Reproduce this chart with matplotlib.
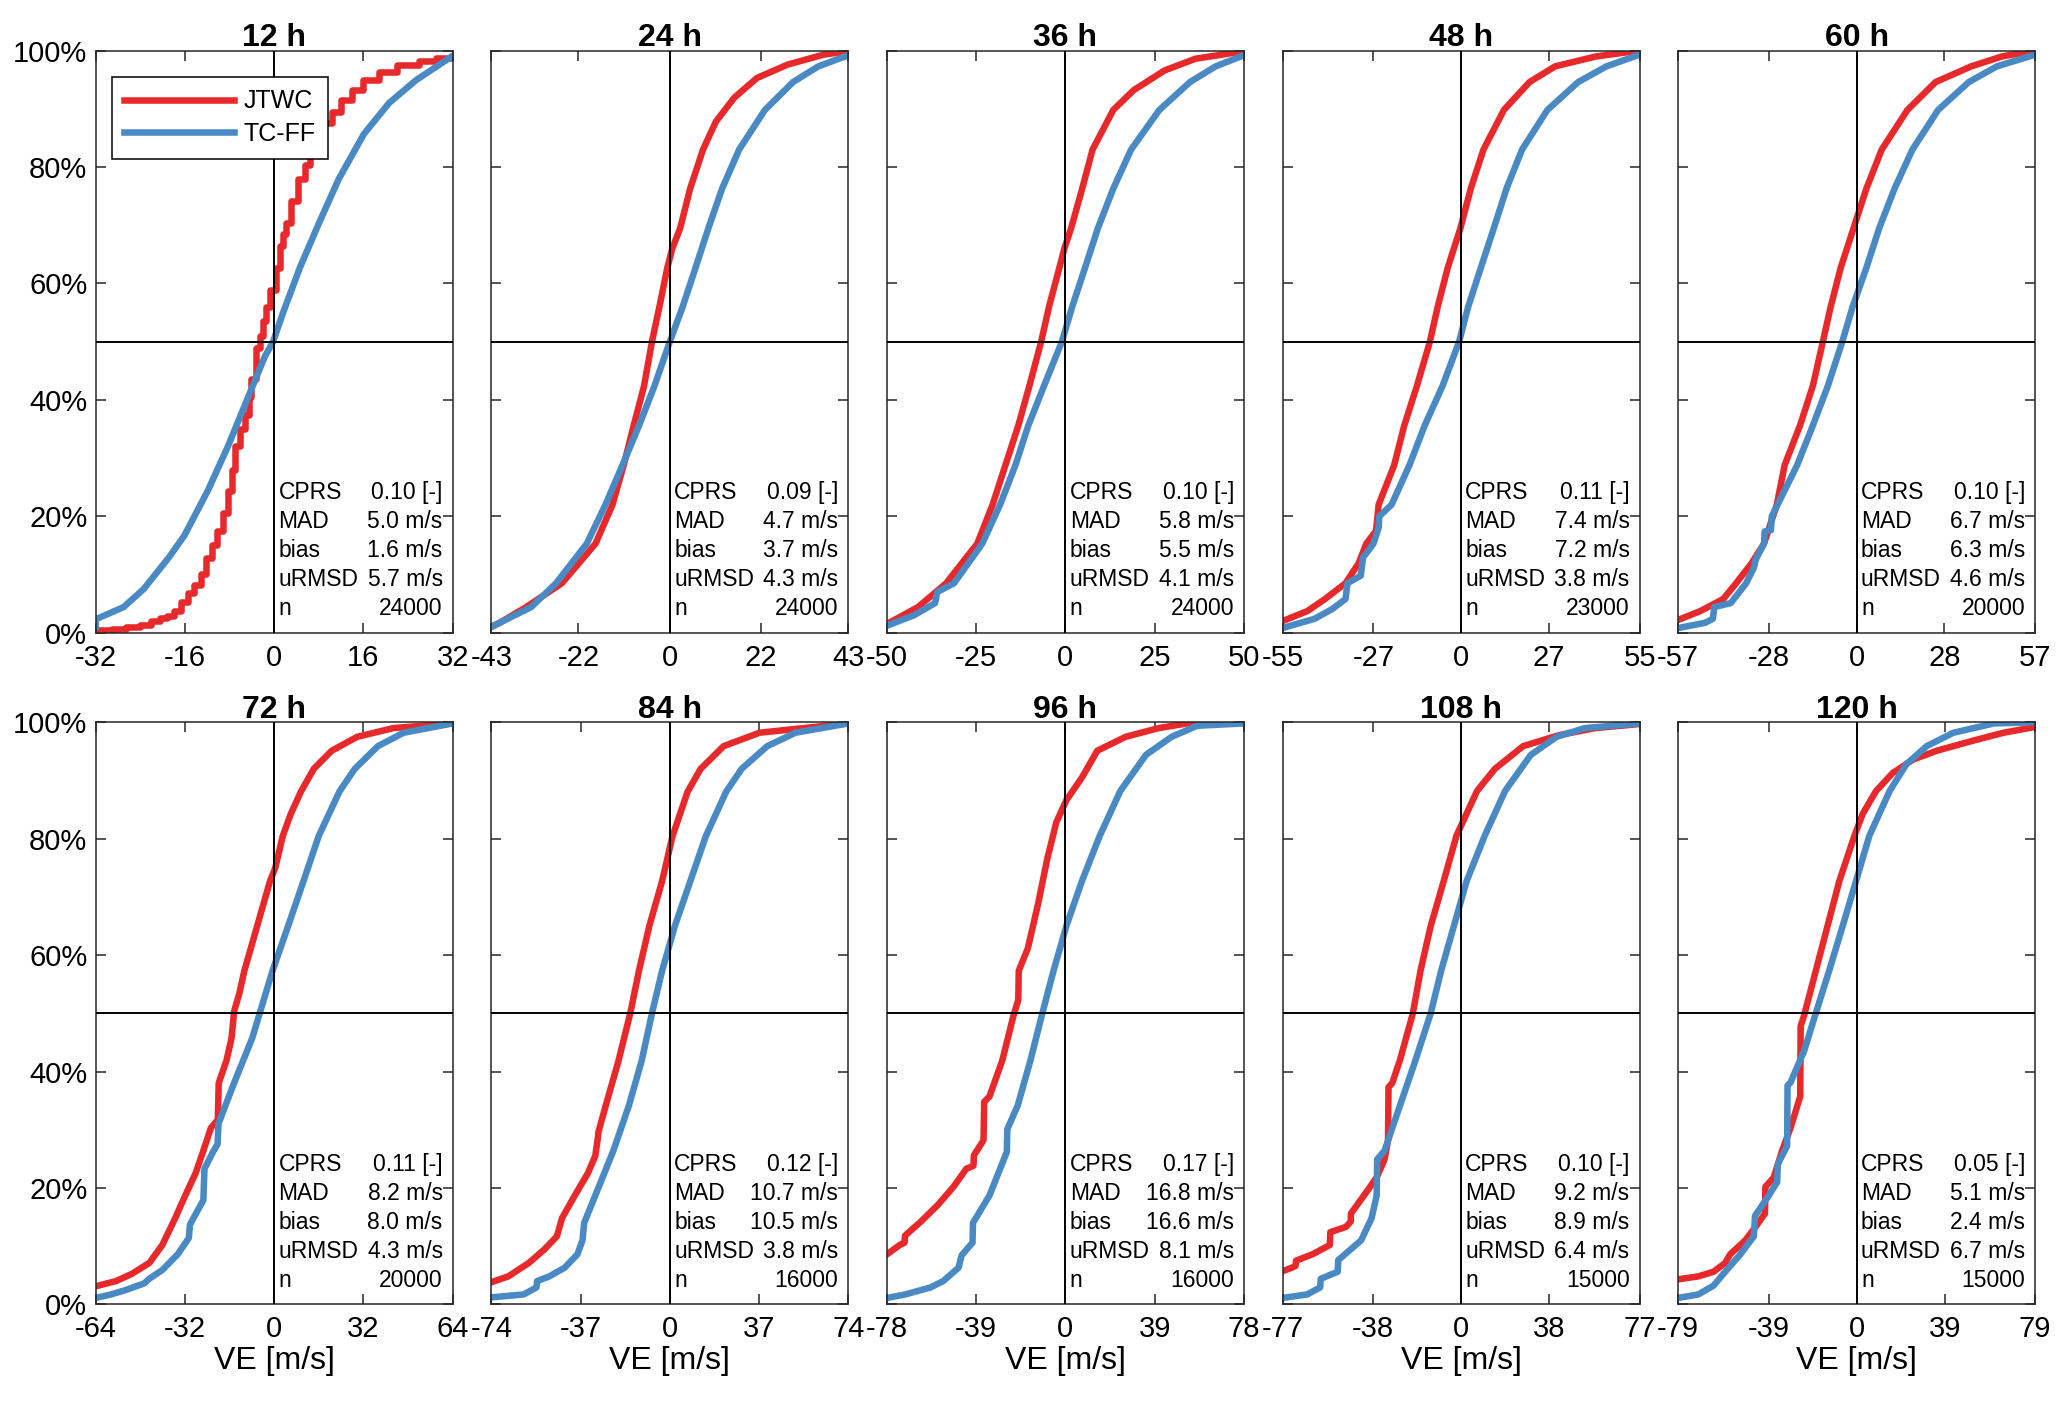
import matplotlib.pyplot as plt

plt.rcParams['font.family'] = ['Liberation Sans', 'DejaVu Sans']

# panel settings and summary statistics
leads = ['12 h', '24 h', '36 h', '48 h', '60 h', '72 h', '84 h', '96 h', '108 h', '120 h']
xmax = [32, 43, 50, 55, 57, 64, 74, 78, 77, 79]
xhalf = [16, 22, 25, 27, 28, 32, 37, 39, 38, 39]
cprs = [0.10, 0.09, 0.10, 0.11, 0.10, 0.11, 0.12, 0.17, 0.10, 0.05]
mad = [5.0, 4.7, 5.8, 7.4, 6.7, 8.2, 10.7, 16.8, 9.2, 5.1]
bias = [1.6, 3.7, 5.5, 7.2, 6.3, 8.0, 10.5, 16.6, 8.9, 2.4]
urmsd = [5.7, 4.3, 4.1, 3.8, 4.6, 4.3, 3.8, 8.1, 6.4, 6.7]
n_cases = [24000, 24000, 24000, 23000, 20000, 20000, 16000, 16000, 15000, 15000]

# CDF curves: VE [m/s] and cumulative percentage
jtwc_x_12 = [-32, -29, -26.5, -24, -22, -20.5, -19.2, -18, -16.7, -15.4, -14.3, -13.2, -12.2, -11.2,
             -10.2, -9.2, -8.3, -7.6, -7.1, -6.2, -5.3, -4.5, -4.1, -3.2, -2.6, -2.0, -1.4, -0.8,
             0.4, 1.0, 1.6, 2.2, 3.1, 4.3, 5.5, 6.4, 7.3, 8.5, 10.4, 12, 14, 16, 18.8, 22, 26,
             29, 32]
jtwc_p_12 = [0.5, 0.7, 1.0, 1.4, 2.0, 2.5, 2.9, 3.7, 5.2, 6.8, 8.2, 10, 12.9, 15,
             17.5, 20.5, 24.4, 28, 32, 35, 37.4, 40.5, 43.5, 48.9, 51, 53.5, 56, 58.8,
             62.7, 66.5, 68.5, 70.3, 74.2, 78, 80.3, 83, 85.7, 87.5, 89.5, 91.5, 93.3, 95, 96.4,
             97.5, 98.3, 98.8, 99.1]
tcff_x_12 = [-32, -32, -27, -23.4, -18.9, -16.1, -11.9, -8.3, -5, -1.7, -0.2, 1.6, 4.6, 8, 11.6,
             16.1, 20.6, 25.4, 29, 32]
tcff_p_12 = [1.0, 2.3, 4.4, 7.5, 12.9, 16.7, 24.4, 32, 39.7, 47.4, 50, 55, 62.7, 70.3, 78,
             85.7, 91, 94.9, 97.2, 99.1]

jtwc_x_24 = [-43, -41, -34.6, -26, -17.9, -13.8, -11.1, -8.7, -6.2, -4.3, -2.5, -0.6, 0.6, 2.5,
             4.9, 8, 11.1, 15.5, 21, 28.4, 37, 43]
jtwc_p_24 = [1.0, 1.7, 4.4, 8.5, 15.3, 22, 28.8, 35.6, 42.4, 50, 56, 62.7, 66, 69.5,
             76.3, 83, 87.8, 91.9, 95.3, 97.6, 99.3, 99.9]
tcff_x_24 = [-43, -33.4, -27.4, -20, -15.5, -11.4, -7.4, -3.7, 0, 3.1, 6.2, 9.3, 12.6, 16.7,
             22.9, 29.7, 35.8, 43]
tcff_p_24 = [1.0, 4.4, 8.5, 15.3, 22, 28.8, 35.6, 42.4, 50, 56, 62.7, 69.5, 76.3, 83,
             89.8, 94.6, 97.3, 99.2]

jtwc_x_36 = [-50, -41.3, -33.4, -24.7, -20.4, -16.8, -13.2, -10.1, -6.8, -4.6, -1.7, -0.3, 1.6,
             4.7, 7.6, 13.4, 19.1, 27.8, 36.4, 50]
jtwc_p_36 = [1.5, 4.4, 8.5, 15.3, 22, 28.8, 35.6, 42.4, 50, 56, 62.7, 66, 69.5,
             76.3, 83, 89.8, 93.2, 96.6, 98.6, 99.9]
tcff_x_36 = [-50, -42.4, -36.5, -35.9, -31.2, -23.3, -18.3, -14, -10.4, -6, -1, 1.9, 5.5, 9.1,
             13.4, 18.4, 26.3, 34.9, 42.1, 50]
tcff_p_36 = [1.2, 3.0, 5.1, 7.0, 8.5, 15.3, 22, 28.8, 35.6, 42.4, 50, 56, 62.7, 69.5,
             76.3, 83, 89.8, 94.6, 97.3, 99.2]

jtwc_x_48 = [-55, -47.4, -41.9, -35.6, -31.6, -29.2, -26.2, -25.4, -23, -20.6, -17.5, -13.6, -9.6,
             -7.2, -4.1, -0.2, 3, 6.9, 13.2, 21.1, 29, 41.6, 55]
jtwc_p_48 = [2.0, 3.7, 5.8, 8.5, 11.9, 15.3, 17.5, 22, 25.4, 28.8, 35.6, 42.4, 50,
             56, 62.7, 69.5, 76.3, 83, 89.8, 94.6, 97.3, 99, 100]
tcff_x_48 = [-55, -45.1, -39.6, -35.6, -35.0, -30.9, -30.2, -27, -25.4, -25.2, -21.4, -15.9, -11.2,
             -5.7, -0.6, 2.2, 6.1, 10.1, 14, 18.8, 26.6, 36.1, 44.8, 55]
tcff_p_48 = [0.8, 2.4, 4.1, 5.8, 8.5, 9.8, 12.9, 15.3, 18, 20, 22, 28.8, 35.6,
             42.4, 50, 56, 62.7, 69.5, 76.3, 83, 89.8, 94.6, 97.3, 99.3]

jtwc_x_60 = [-57, -50, -42.6, -38.5, -33.6, -29.6, -25.5, -23, -18.1, -14, -10.8, -8.3, -5.1,
             -1, 3.1, 8, 16.2, 25.2, 36.6, 46.4, 57]
jtwc_p_60 = [2.2, 3.7, 5.8, 8.5, 11.9, 15.3, 22, 28.8, 35.6, 42.4, 50, 56, 62.7,
             69.5, 76.3, 83, 89.8, 94.6, 97.3, 99, 100]
tcff_x_60 = [-57, -48.4, -45.9, -45.5, -40.2, -35.3, -32.8, -32.2, -29.6, -29.4, -27.4, -27.1, -19,
             -14, -9.2, -4.6, -1.3, 3.1, 7.2, 12.1, 17.8, 26, 35.8, 44.8, 57]
tcff_p_60 = [0.8, 1.7, 2.4, 4.4, 5.1, 8.5, 11.2, 12.6, 15.3, 17.4, 17.6, 20, 28.8,
             35.6, 42.4, 50, 56, 62.7, 69.5, 76.3, 83, 89.8, 94.6, 97.3, 99.3]

jtwc_x_72 = [-64, -56.7, -51.2, -44.8, -40.1, -35.5, -31.9, -28.2, -25.4, -22.7, -20.2, -19.9,
             -17.1, -15.3, -14.6, -14.4, -12.5, -10.7, -6.1, -1.5, 0.4, 3.1, 5.9, 9.6, 14.2, 20.6,
             29.8, 42.7, 64]
jtwc_p_72 = [3.1, 4.0, 5.2, 7.1, 10.2, 14.8, 18.7, 22.5, 26.4, 30.3, 31.7, 38, 41.9, 45.7, 49.1,
             50.3, 53.4, 57.3, 65, 72.7, 75, 80.5, 84.2, 88.1, 92, 95.1, 97.5, 99, 99.8]
tcff_x_72 = [-64, -58.5, -53, -46.6, -44.8, -40.1, -34.6, -30.6, -30.2, -25.4, -25.0, -21.7,
             -20.3, -20.0, -14.4, -7.9, -5.2, -0.6, 5, 10.5, 16, 23.4, 28.9, 37.2, 46.4, 64]
tcff_p_72 = [1.1, 1.7, 2.5, 3.6, 4.4, 5.9, 8.6, 11.4, 13.7, 17.9, 23.3, 26.4,
             27.5, 31, 38, 45.7, 50, 57.3, 65, 72.7, 80.5, 88.1, 92, 95.9, 98.2, 99.8]

jtwc_x_84 = [-74, -67, -58.5, -52.1, -46.8, -44.7, -39.4, -34, -30.9, -29.8, -29.6, -26.6, -21.3,
             -16.4, -12.8, -8.5, -3.2, 1.1, 7.4, 12.8, 22.3, 37.2, 74]
jtwc_p_84 = [3.8, 4.8, 7.1, 9.4, 11.7, 14.8, 18.7, 22.5, 25.5, 28.7, 29.6, 34.1, 41.8,
             50, 57.3, 65, 72.7, 80.4, 88.1, 92, 95.9, 98.2, 99.8]
tcff_x_84 = [-74, -60.6, -55.3, -55.0, -50, -43.6, -38.3, -36.2, -35.5, -30.9, -23.4, -17, -11.7,
             -7.4, -3.2, 2.1, 8.5, 14.9, 23.4, 29.8, 40.4, 52.1, 74]
tcff_p_84 = [1.2, 1.7, 2.9, 4.0, 4.8, 6.3, 8.6, 11, 14, 18.7, 26.4, 34.1, 41.8,
             50, 57.3, 65, 72.7, 80.4, 88.1, 92, 95.9, 98.2, 99.8]

jtwc_x_96 = [-78, -72.4, -70.3, -70.1, -63.5, -55.7, -48.9, -43.3, -40.2, -40, -35.8, -35.5, -33.2,
             -27.6, -22.7, -20.6, -20.4, -16.4, -11.9, -7.9, -4, 0.4, 7.2, 13.9, 26.3, 40.8, 53.1, 78]
jtwc_p_96 = [8.6, 10.2, 10.6, 11.8, 14.1, 17.1, 20.2, 23.3, 23.8, 25.6, 28.2, 34.8, 35.7,
             41.9, 49.6, 52.3, 57.3, 61.2, 68.9, 76.6, 82.8, 86.6, 90.5, 95.1, 97.5, 99, 99.8, 100]
tcff_x_96 = [-78, -70, -59, -53.4, -46.7, -45.4, -40.6, -40.4, -33.2, -25.6, -25.4, -20.9, -15.3,
             -10.1, -5.2, 0.4, 7.2, 15, 24, 35.2, 46.4, 57.6, 78]
tcff_p_96 = [1.1, 1.7, 2.9, 4, 6.3, 8.4, 10.6, 14, 18.7, 26.2, 30.1, 34.1, 41.9,
             50, 57.3, 65, 72.7, 80.5, 88.2, 94.4, 97.5, 99.4, 99.8]

jtwc_x_108 = [-77, -73, -71.4, -71.2, -64.1, -56.6, -56.4, -49.7, -47.6, -47.5, -41.9, -36.4, -33,
              -31.5, -31.3, -29.7, -26.4, -20.8, -17.5, -13.1, -7.5, -2, 2.4, 6.9, 14.6, 26.8, 42.4,
              57.9, 77]
jtwc_p_108 = [5.7, 6.3, 6.6, 7.5, 8.6, 10.2, 12.4, 13.3, 14.2, 15.6, 18.7, 21.8, 24.9,
              28.2, 37.3, 38, 41.9, 50, 57.3, 65, 72.7, 80.5, 84.3, 88.2, 92, 95.9, 97.8,
              99, 99.7]
tcff_x_108 = [-77, -66.4, -60.8, -60.5, -53.2, -53, -43.1, -38.6, -36.4, -36.2, -33, -26.4, -19.7,
              -13.1, -8.6, -3.1, 2.4, 10.2, 19, 30.1, 41.2, 53.4, 77]
tcff_p_108 = [1.1, 1.7, 2.9, 4.4, 5.6, 7.6, 11, 14.8, 18.7, 24.9, 26.4, 34.1, 41.9,
              50, 57.3, 65, 72.7, 80.5, 88.2, 94.4, 97.5, 99, 99.8]

jtwc_x_120 = [-79, -70.1, -63.4, -58.2, -56, -49.3, -44.8, -40.6, -40.4, -36.7, -33, -29.3, -25,
              -24.8, -23.3, -18.1, -12.9, -7.7, -1, 2.7, 8.6, 16, 25, 35.4, 50.2, 65, 79]
jtwc_p_120 = [4.3, 4.8, 5.6, 7.1, 8.6, 11, 13.3, 15.6, 20.2, 21.8, 26.4, 30.3, 35.7,
              47.8, 49.6, 57.3, 65, 72.7, 80.5, 84.3, 88.2, 91.3, 93.6, 95.1, 96.7, 98.2, 99.2]
tcff_x_120 = [-79, -70.1, -63.4, -58.2, -51.5, -45.5, -45.0, -38.9, -35.2, -34.9, -30.8, -30.6,
              -29.3, -23.3, -18.1, -12.2, -6.2, -0.3, 5.6, 14.6, 22, 31, 42.8, 60.7, 79]
tcff_p_120 = [1.1, 1.7, 3.2, 5.6, 8.6, 11.7, 15.2, 18.7, 21, 24.1, 27.2, 37.6,
              38.1, 43.5, 50, 57.3, 65, 72.7, 80.5, 88.2, 92.8, 95.9, 98.2, 99.8, 100]

jtwc_x = [jtwc_x_12, jtwc_x_24, jtwc_x_36, jtwc_x_48, jtwc_x_60,
          jtwc_x_72, jtwc_x_84, jtwc_x_96, jtwc_x_108, jtwc_x_120]
jtwc_p = [jtwc_p_12, jtwc_p_24, jtwc_p_36, jtwc_p_48, jtwc_p_60,
          jtwc_p_72, jtwc_p_84, jtwc_p_96, jtwc_p_108, jtwc_p_120]
tcff_x = [tcff_x_12, tcff_x_24, tcff_x_36, tcff_x_48, tcff_x_60,
          tcff_x_72, tcff_x_84, tcff_x_96, tcff_x_108, tcff_x_120]
tcff_p = [tcff_p_12, tcff_p_24, tcff_p_36, tcff_p_48, tcff_p_60,
          tcff_p_72, tcff_p_84, tcff_p_96, tcff_p_108, tcff_p_120]

red = '#E8292B'
blue = '#4A8AC4'
box_color = '#262626'

fig = plt.figure(figsize=(20.67, 14.06), dpi=100)

lefts = [0.0463, 0.2377, 0.4291, 0.6205, 0.8119]
width = 0.1727
bottoms = [0.550, 0.0723]
height = 0.414

for i in range(10):
    row, col = divmod(i, 5)
    ax = fig.add_axes([lefts[col], bottoms[row], width, height])

    # 12 h JTWC is drawn as a visible staircase
    style = 'steps-post' if i == 0 else 'default'
    ax.plot(jtwc_x[i], jtwc_p[i], color=red, lw=4.7, drawstyle=style, label='JTWC', zorder=2)
    ax.plot(tcff_x[i], tcff_p[i], color=blue, lw=4.7, label='TC-FF', zorder=2.5)

    ax.axvline(0, color='black', lw=1.4, zorder=3)
    ax.axhline(50, color='black', lw=1.4, zorder=3)

    L = xmax[i]
    ax.set_xlim(-L, L)
    ax.set_ylim(0, 100)
    ax.set_xticks([-L, -xhalf[i], 0, xhalf[i], L])
    ax.set_xticklabels([str(-L), str(-xhalf[i]), '0', str(xhalf[i]), str(L)])
    ax.set_yticks([0, 20, 40, 60, 80, 100])
    if col == 0:
        ax.set_yticklabels([f'{v}%' for v in [0, 20, 40, 60, 80, 100]])
    else:
        ax.set_yticklabels([])
    ax.tick_params(direction='in', top=True, right=True, length=7, width=1.1,
                   labelsize=21, colors=box_color, labelcolor='black')
    ax.tick_params(axis='x', pad=8)
    ax.tick_params(axis='y', pad=6)
    for s in ax.spines.values():
        s.set_color(box_color)
        s.set_linewidth(1.1)

    ax.set_title(leads[i], fontsize=23, fontweight='bold', pad=3)
    if row == 1:
        ax.set_xlabel('VE [m/s]', fontsize=23, labelpad=2)

    labels = ['CPRS', 'MAD', 'bias', 'uRMSD', 'n']
    values = [f'{cprs[i]:.2f} [-]', f'{mad[i]:.1f} m/s', f'{bias[i]:.1f} m/s',
              f'{urmsd[i]:.1f} m/s', f'{n_cases[i]}']
    for k in range(5):
        y = 0.229 - 0.0498 * k
        ax.text(0.512, y, labels[k], transform=ax.transAxes, fontsize=16.5,
                ha='left', va='baseline', zorder=4)
        ax.text(0.972, y, values[k], transform=ax.transAxes, fontsize=16.5,
                ha='right', va='baseline', zorder=4)

    if i == 0:
        leg = ax.legend(loc='upper left', bbox_to_anchor=(0.045, 0.955), borderaxespad=0,
                        fontsize=18, handlelength=4.4, handletextpad=0.36, borderpad=0.5,
                        labelspacing=0.35, fancybox=False, framealpha=1, edgecolor='black')
        leg.get_frame().set_linewidth(1.1)

fig.savefig('out.png', dpi=100)
